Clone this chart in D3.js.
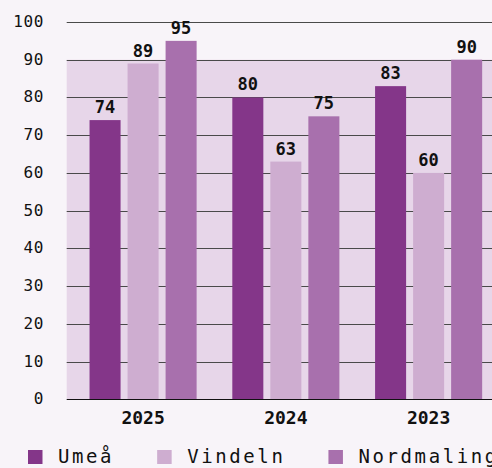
<!DOCTYPE html>
<html>
<head>
<meta charset="utf-8">
<script src="https://cdn.jsdelivr.net/npm/d3@7"></script>
<style>
  html, body { margin: 0; padding: 0; background: #f8f4f9; }
  svg { display: block; }
</style>
</head>
<body>
<svg id="chart" width="492" height="468"></svg>
<script>
// ---- data ----
const years = ["2025", "2024", "2023"];
const seriesNames = ["Umeå", "Vindeln", "Nordmaling"];
const umea = [74, 80, 83];
const vindeln = [89, 63, 60];
const nordmaling = [95, 75, 90];
const yTicks = [0, 10, 20, 30, 40, 50, 60, 70, 80, 90, 100];
const bandRange = [0, 90];
const colors = ["#843689", "#ceadd0", "#a870ad"];

const seriesValues = [umea, vindeln, nordmaling];
const rows = years.map((yr, i) => ({
  year: yr,
  values: seriesNames.map((s, j) => ({ key: s, value: seriesValues[j][i], idx: j }))
}));

const W = 492, H = 468;
const svg = d3.select("#chart");
svg.append("rect").attr("width", W).attr("height", H).attr("fill", "#f8f4f9");

const left = 66.7;
const y = d3.scaleLinear().domain([0, 100]).range([399.3, 22]);
const x0 = d3.scaleBand().domain(years).range([left, 505]).paddingInner(0.25).paddingOuter(0.16);
const x1 = d3.scaleBand().domain(seriesNames).range([0, x0.bandwidth()]).paddingInner(0.184).paddingOuter(0);
const color = d3.scaleOrdinal().domain(seriesNames).range(colors);

const mono = "'DejaVu Sans Mono', 'Liberation Mono', monospace";

// shaded band
svg.append("rect")
  .attr("x", left).attr("y", y(bandRange[1]))
  .attr("width", W - left).attr("height", y(bandRange[0]) - y(bandRange[1]))
  .attr("fill", "#e7d6e9");

// grid lines
svg.append("g").selectAll("line").data(yTicks.filter(d => d > 0)).join("line")
  .attr("x1", left).attr("x2", W)
  .attr("y1", d => Math.round(y(d)) + 0.5).attr("y2", d => Math.round(y(d)) + 0.5)
  .attr("stroke", "#4a4a4a").attr("stroke-width", 1);

// y tick labels
svg.append("g").selectAll("text").data(yTicks).join("text")
  .attr("x", 44).attr("y", d => y(d) + 5)
  .attr("text-anchor", "end")
  .attr("font-family", mono).attr("font-size", 16).attr("letter-spacing", 0.6)
  .attr("fill", "#111")
  .text(d => d);

// bars
const groups = svg.append("g").selectAll("g").data(rows).join("g")
  .attr("transform", d => `translate(${x0(d.year)},0)`);

groups.selectAll("rect").data(d => d.values).join("rect")
  .attr("x", d => x1(d.key))
  .attr("y", d => y(d.value))
  .attr("width", x1.bandwidth())
  .attr("height", d => y(0) - y(d.value))
  .attr("fill", d => color(d.key));

groups.selectAll("text").data(d => d.values).join("text")
  .attr("x", d => x1(d.key) + x1.bandwidth() / 2)
  .attr("y", d => y(d.value) - 7)
  .attr("text-anchor", "middle")
  .attr("font-family", mono).attr("font-size", 17).attr("font-weight", "bold")
  .attr("fill", "#111")
  .text(d => d.value);

// baseline
svg.append("line").attr("x1", left).attr("x2", W)
  .attr("y1", Math.round(y(0)) + 0.5).attr("y2", Math.round(y(0)) + 0.5)
  .attr("stroke", "#111").attr("stroke-width", 1);

// x labels
svg.append("g").selectAll("text").data(years).join("text")
  .attr("x", d => x0(d) + x0.bandwidth() / 2)
  .attr("y", 424)
  .attr("text-anchor", "middle")
  .attr("font-family", mono).attr("font-size", 18).attr("font-weight", "bold")
  .attr("fill", "#111")
  .text(d => d);

// legend
const legend = svg.append("g");
let lx = 28;
seriesNames.forEach((s, i) => {
  legend.append("rect").attr("x", lx).attr("y", 450).attr("width", 14.5).attr("height", 14).attr("fill", colors[i]);
  const t = legend.append("text").attr("x", lx + 30).attr("y", 463)
    .attr("font-family", mono).attr("font-size", 19).attr("letter-spacing", 2.6)
    .attr("fill", "#111").text(s);
  const w = t.node().getComputedTextLength();
  lx = lx + 30 + w + 43;
});
</script>
</body>
</html>
